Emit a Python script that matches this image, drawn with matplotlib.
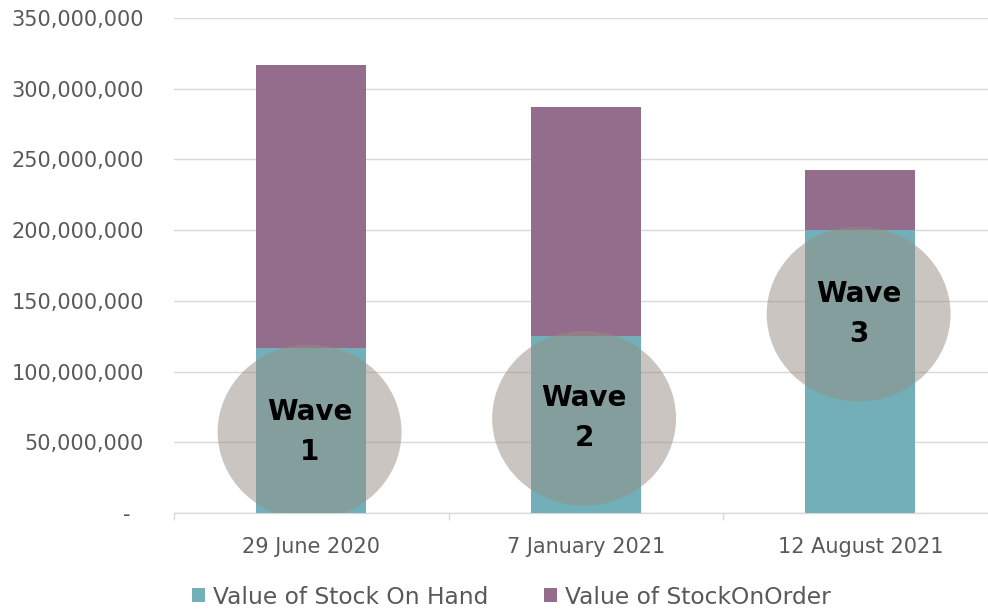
import matplotlib
matplotlib.use("Agg")
import matplotlib.pyplot as plt
from matplotlib.patches import Ellipse
from matplotlib.ticker import FuncFormatter, FixedLocator

# ---- data ----
categories = ["29 June 2020", "7 January 2021", "12 August 2021"]
stock_on_hand = [116.5e6, 125.2e6, 200.0e6]
stock_total = [316.8e6, 287.3e6, 242.6e6]
stock_on_order = [t - h for t, h in zip(stock_total, stock_on_hand)]
series_names = ["Value of Stock On Hand", "Value of StockOnOrder"]
wave_labels = ["Wave\n1", "Wave\n2", "Wave\n3"]
wave_centers = [57.3e6, 67.0e6, 140.7e6]
yticks = [0, 50e6, 100e6, 150e6, 200e6, 250e6, 300e6, 350e6]

# ---- style ----
teal = "#72AFB8"
purple = "#936D8B"
grid_c = "#D9D9D9"
text_c = "#595959"

fig = plt.figure(figsize=(9.88, 6.10), dpi=100)
ax = fig.add_axes([174 / 988, 1 - 513 / 610, 823.5 / 988, 495 / 610])

x = list(range(len(categories)))
b1 = ax.bar(x, stock_on_hand, width=0.4, color=teal, zorder=2, label=series_names[0])
b2 = ax.bar(x, stock_on_order, width=0.4, bottom=stock_on_hand, color=purple, zorder=2,
            label=series_names[1])

# wave ellipses
ell_w = 0.67
ell_h = 123.5e6
for xi, yc, lab in zip(x, wave_centers, wave_labels):
    e = Ellipse((xi - 0.006, yc), ell_w, ell_h, facecolor=(151/255, 141/255, 131/255),
                alpha=0.5, edgecolor="none", zorder=3)
    ax.add_patch(e)
    ax.text(xi - 0.006, yc, lab, ha="center", va="center", fontsize=20,
            fontweight="bold", color="black", zorder=4, linespacing=1.55)

ax.set_xlim(-0.5, 2.5)
ax.set_ylim(0, 350e6)
ax.set_yticks(yticks)
ax.yaxis.set_major_formatter(FuncFormatter(lambda v, p: "-  " if v == 0 else f"{v:,.0f}"))
ax.set_xticks(x)
ax.set_xticklabels(categories)
ax.xaxis.set_minor_locator(FixedLocator([-0.5, 0.5, 1.5, 2.5]))

ax.tick_params(axis="y", length=0, pad=21.6, labelsize=15, labelcolor=text_c)
ax.tick_params(axis="x", which="major", length=0, pad=17, labelsize=15, labelcolor=text_c)
ax.tick_params(axis="x", which="minor", length=5, width=1.0, color=grid_c)

ax.grid(axis="y", color=grid_c, linewidth=1.0, zorder=0)
ax.set_axisbelow(True)
for s in ["top", "right", "left"]:
    ax.spines[s].set_visible(False)
ax.spines["bottom"].set_color(grid_c)
ax.spines["bottom"].set_linewidth(1.0)
ax.spines["bottom"].set_zorder(1)

leg = fig.legend(handles=[b1, b2], labels=series_names, loc="center",
                 bbox_to_anchor=(511.5 / 988, 1 - 597 / 610), ncol=2, frameon=False,
                 fontsize=16.8, handlelength=0.55, handleheight=0.55, handletextpad=0.35,
                 columnspacing=2.4, labelcolor=text_c)

fig.savefig("out.png", dpi=100)
